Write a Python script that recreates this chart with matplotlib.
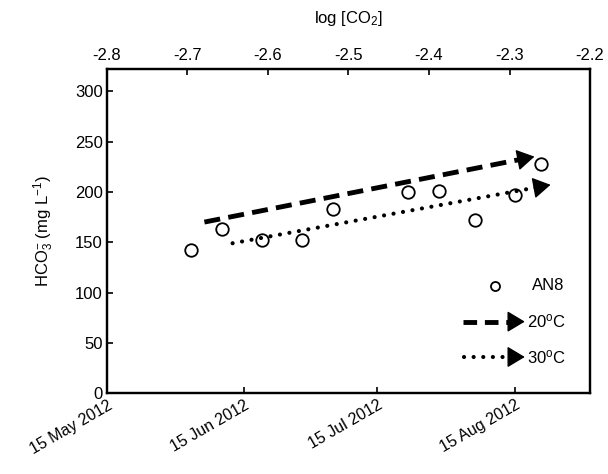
import matplotlib
matplotlib.use("Agg")
import matplotlib.pyplot as plt
import numpy as np
import datetime as dt

plt.rcParams['font.family'] = ['Liberation Sans', 'DejaVu Sans']
plt.rcParams['axes.unicode_minus'] = False
plt.rcParams['mathtext.fontset'] = 'custom'
plt.rcParams['mathtext.rm'] = 'Liberation Sans'
plt.rcParams['mathtext.it'] = 'Liberation Sans:italic'

# ---- data ----
sample_dates = ["2012-06-03", "2012-06-10", "2012-06-19", "2012-06-28", "2012-07-05",
                "2012-07-22", "2012-07-29", "2012-08-06", "2012-08-15", "2012-08-21"]
hco3_an8 = [142, 163, 152, 152, 183, 200, 201, 172, 197, 228]

line20_logco2 = [-2.679, -2.269]
line20_hco3 = [170, 235]
line30_logco2 = [-2.644, -2.249]
line30_hco3 = [149, 207]

date_ticks = ["2012-05-15", "2012-06-15", "2012-07-15", "2012-08-15"]
date_tick_labels = ["15 May 2012", "15 Jun 2012", "15 Jul 2012", "15 Aug 2012"]
logco2_ticks = [-2.8, -2.7, -2.6, -2.5, -2.4, -2.3, -2.2]
hco3_ticks = [0, 50, 100, 150, 200, 250, 300]

to_date = lambda s: dt.datetime.strptime(s, "%Y-%m-%d")
HEAD = '-|>,head_length=0.55,head_width=0.33'

fig = plt.figure(figsize=(6.08, 4.74), dpi=100)
ax = fig.add_axes([107/608, (474-393.3)/474, (590-107)/608, (393.3-69)/474])

# circles on date axis
ax.plot([to_date(d) for d in sample_dates], hco3_an8, linestyle='none', marker='o',
        markersize=9, markerfacecolor='none', markeredgecolor='black', markeredgewidth=1.3,
        zorder=3)
ax.set_xlim(to_date("2012-05-15"), to_date("2012-09-01"))
ax.set_ylim(0, 322)
ax.set_xticks([to_date(d) for d in date_ticks])
ax.set_xticklabels(date_tick_labels, rotation=30, ha='right', rotation_mode='anchor')
ax.set_yticks(hco3_ticks)
ax.tick_params(axis='both', direction='in', length=4, width=1.2, labelsize=12)
ax.tick_params(axis='x', pad=3, labelsize=11.5)
ax.tick_params(axis='y', pad=3)
for s in ax.spines.values():
    s.set_linewidth(1.6)
ax.set_ylabel("HCO$_3^{-}$ (mg L$^{-1}$)", fontsize=12, labelpad=14)

# top axis
ax2 = ax.twiny()
ax2.set_xlim(-2.8, -2.2)
ax2.set_xticks(logco2_ticks)
ax2.set_xticklabels([f"{v:.1f}" for v in logco2_ticks])
ax2.tick_params(axis='x', direction='in', length=4, width=1.2, labelsize=12, pad=4)
for s in ax2.spines.values():
    s.set_linewidth(1.6)
ax2.set_xlabel("log [CO$_2$]", fontsize=12, labelpad=18)

def arrow_line(axis, xs, ys, style, lw):
    xs = np.asarray(xs, float); ys = np.asarray(ys, float)
    ln, = axis.plot(xs, ys, color='black', lw=lw)
    if style == 'dashed':
        ln.set_dashes((3.3, 1.7))
        ln.set_dash_capstyle('butt')
    else:
        ln.set_dashes((0.01, 2.3))
        ln.set_dash_capstyle('round')
    axis.annotate('', xy=(xs[1], ys[1]),
                  xytext=(xs[1] - 0.03 * (xs[1] - xs[0]), ys[1] - 0.03 * (ys[1] - ys[0])),
                  arrowprops=dict(arrowstyle=HEAD, color='black',
                                  lw=1, shrinkA=0, shrinkB=0, mutation_scale=20))
    return ln

arrow_line(ax2, line20_logco2, line20_hco3, 'dashed', 3.5)
arrow_line(ax2, line30_logco2, line30_hco3, 'dotted', 3.0)

# legend drawn manually (axes fraction)
T = ax.transAxes
ax.plot([0.803], [0.331], transform=T, marker='o', markersize=6.5, markerfacecolor='none',
        markeredgecolor='black', markeredgewidth=1.3, linestyle='none')
ax.text(0.879, 0.331, "AN8", transform=T, fontsize=12, va='center', ha='left')
l1, = ax.plot([0.737, 0.845], [0.221, 0.221], transform=T, color='black', lw=3.5)
l1.set_dashes((2.8, 1.6)); l1.set_dash_capstyle('butt')
ax.annotate('', xy=(0.865, 0.221), xytext=(0.84, 0.221), xycoords=T, textcoords=T,
            arrowprops=dict(arrowstyle=HEAD, color='black',
                            lw=1, shrinkA=0, shrinkB=0, mutation_scale=20))
ax.text(0.869, 0.221, "20$^{\\rm o}$C", transform=T, fontsize=12, va='center', ha='left')
l2, = ax.plot([0.74, 0.845], [0.112, 0.112], transform=T, color='black', lw=3.0)
l2.set_dashes((0.01, 2.3)); l2.set_dash_capstyle('round')
ax.annotate('', xy=(0.865, 0.112), xytext=(0.84, 0.112), xycoords=T, textcoords=T,
            arrowprops=dict(arrowstyle=HEAD, color='black',
                            lw=1, shrinkA=0, shrinkB=0, mutation_scale=20))
ax.text(0.869, 0.112, "30$^{\\rm o}$C", transform=T, fontsize=12, va='center', ha='left')

fig.savefig("out.png", dpi=100)
